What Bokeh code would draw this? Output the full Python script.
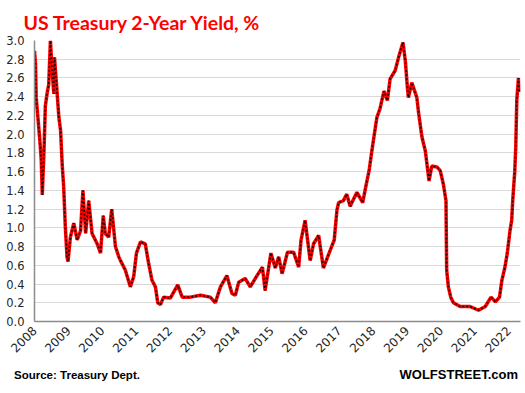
from bokeh.plotting import figure
from bokeh.models import Range1d, FixedTicker, ColumnDataSource, NumeralTickFormatter, Div
from bokeh.layouts import column
from bokeh.embed import file_html
from bokeh.resources import INLINE
import math

# Data (decimal year, 2-year yield %)
dates = [2008.00, 2008.03, 2008.05, 2008.10, 2008.15, 2008.20, 2008.23, 2008.28, 2008.32, 2008.37,
         2008.42, 2008.47, 2008.52, 2008.57, 2008.59, 2008.65, 2008.72, 2008.77, 2008.82, 2008.86,
         2008.91, 2008.96, 2008.99, 2009.06, 2009.16, 2009.26, 2009.36, 2009.43, 2009.51, 2009.60,
         2009.70, 2009.85, 2009.95, 2010.03, 2010.09, 2010.19, 2010.28, 2010.39, 2010.49, 2010.54,
         2010.68, 2010.83, 2010.93, 2011.01, 2011.13, 2011.27, 2011.37, 2011.47, 2011.57, 2011.64,
         2011.72, 2011.81, 2012.01, 2012.23, 2012.36, 2012.60, 2012.90, 2013.19, 2013.34, 2013.49,
         2013.68, 2013.83, 2013.93, 2014.03, 2014.22, 2014.37, 2014.57, 2014.73, 2014.81, 2014.98,
         2015.11, 2015.21, 2015.31, 2015.47, 2015.65, 2015.80, 2015.87, 2015.99, 2016.14, 2016.24,
         2016.39, 2016.53, 2016.73, 2016.85, 2016.93, 2016.98, 2017.12, 2017.22, 2017.32, 2017.52,
         2017.69, 2017.81, 2017.88, 2017.96, 2018.11, 2018.20, 2018.32, 2018.42, 2018.50, 2018.65,
         2018.75, 2018.88, 2018.95, 2019.01, 2019.04, 2019.14, 2019.29, 2019.34, 2019.44, 2019.54,
         2019.65, 2019.73, 2019.88, 2019.98, 2020.07, 2020.15, 2020.17, 2020.22, 2020.29, 2020.37,
         2020.57, 2020.86, 2021.11, 2021.31, 2021.48, 2021.61, 2021.73, 2021.80, 2021.89, 2021.96,
         2022.04, 2022.09, 2022.12, 2022.18, 2022.21, 2022.24, 2022.29, 2022.31]
yields = [2.89, 2.75, 2.39, 2.18, 1.97, 1.72, 1.35, 1.82, 2.30, 2.43,
          2.53, 3.00, 2.68, 2.43, 2.82, 2.53, 2.18, 2.04, 1.66, 1.45,
          1.01, 0.69, 0.64, 0.90, 1.05, 0.87, 0.97, 1.40, 0.94, 1.29,
          0.94, 0.83, 0.73, 1.13, 0.94, 0.90, 1.20, 0.80, 0.69, 0.65,
          0.55, 0.37, 0.48, 0.73, 0.85, 0.83, 0.62, 0.44, 0.37, 0.20,
          0.18, 0.26, 0.25, 0.39, 0.26, 0.26, 0.28, 0.26, 0.20, 0.37,
          0.49, 0.30, 0.28, 0.42, 0.46, 0.37, 0.49, 0.58, 0.33, 0.73,
          0.57, 0.69, 0.51, 0.74, 0.74, 0.58, 0.87, 1.08, 0.65, 0.83,
          0.92, 0.57, 0.76, 0.87, 1.19, 1.27, 1.29, 1.36, 1.23, 1.38,
          1.27, 1.49, 1.61, 1.82, 2.18, 2.27, 2.46, 2.36, 2.59, 2.68,
          2.82, 2.98, 2.78, 2.50, 2.39, 2.55, 2.39, 2.23, 1.97, 1.82,
          1.50, 1.66, 1.65, 1.61, 1.47, 1.29, 0.55, 0.37, 0.26, 0.20,
          0.16, 0.16, 0.12, 0.16, 0.26, 0.21, 0.26, 0.44, 0.58, 0.73,
          0.97, 1.08, 1.29, 1.60, 1.86, 2.36, 2.60, 2.45]
year_ticks = list(range(2008, 2023))
y_ticks = [0.0, 0.2, 0.4, 0.6, 0.8, 1.0, 1.2, 1.4, 1.6, 1.8, 2.0, 2.2, 2.4, 2.6, 2.8, 3.0]

title_text = "US Treasury 2-Year Yield, %"
source_text = "Source: Treasury Dept."
brand_text = "WOLFSTREET.com"

src = ColumnDataSource(dict(x=dates, y=yields))

p = figure(width=525, height=363, output_backend="svg", toolbar_location=None,
           x_range=Range1d(2008, 2022.35), y_range=Range1d(0, 3.0),
           min_border_left=34, min_border_right=5, min_border_top=40, min_border_bottom=42)
p.outline_line_color = None
p.background_fill_color = "white"
p.border_fill_color = "white"

p.title.text = title_text
p.title.align = "left"
p.title.offset = -11
p.title.text_font = "Lato"
p.title.text_font_style = "bold"
p.title.text_font_size = "19.5px"
p.title.text_color = "#ff0000"
p.title.standoff = 14

# axes
p.xaxis.ticker = FixedTicker(ticks=year_ticks)
p.xaxis.major_label_orientation = math.pi / 4
p.xaxis.major_tick_out = 0
p.xaxis.major_tick_in = 0
p.xaxis.minor_tick_out = 0
p.xaxis.minor_tick_in = 0
p.xaxis.axis_line_color = "#8c8c8c"
p.xaxis.axis_line_width = 1.5
p.xaxis.major_label_text_font = "DejaVu Sans"
p.xaxis.major_label_text_font_size = "12px"
p.xaxis.major_label_text_color = "#262626"
p.xaxis.major_label_standoff = 7

p.yaxis.ticker = FixedTicker(ticks=y_ticks)
p.yaxis.formatter = NumeralTickFormatter(format="0.0")
p.yaxis.major_tick_out = 0
p.yaxis.major_tick_in = 0
p.yaxis.minor_tick_out = 0
p.yaxis.minor_tick_in = 0
p.yaxis.axis_line_color = "#8c8c8c"
p.yaxis.axis_line_width = 1.5
p.yaxis.major_label_text_font = "DejaVu Sans"
p.yaxis.major_label_text_font_size = "11.5px"
p.yaxis.major_label_text_color = "#262626"
p.yaxis.major_label_standoff = 10

p.xgrid.grid_line_color = None
p.ygrid.ticker = FixedTicker(ticks=y_ticks)
p.ygrid.grid_line_color = "#d9d9d9"
p.ygrid.grid_line_width = 1

p.line("x", "y", source=src, line_color="#ff0000", line_width=3.5)
p.line("x", "y", source=src, line_color="#000000", line_width=1.6, line_dash="2 2", line_alpha=0.85)

footer_html = (
    '<div style="position:relative;width:525px;height:30px;font-family:\'Liberation Sans\',Arial,sans-serif;'
    'font-weight:bold;color:#000000;margin:0;padding:0;">'
    '<span style="position:absolute;left:14px;top:6px;font-size:11.5px;line-height:13px;white-space:nowrap;">'
    + source_text + '</span>'
    '<span style="position:absolute;right:7px;top:4px;font-size:13px;line-height:15px;white-space:nowrap;">'
    + brand_text + '</span></div>'
)
footer = Div(text=footer_html, width=525, height=30, margin=(0, 0, 0, 0))

layout = column(p, footer, spacing=0)

open("out.html", "w").write(file_html(layout, INLINE))
